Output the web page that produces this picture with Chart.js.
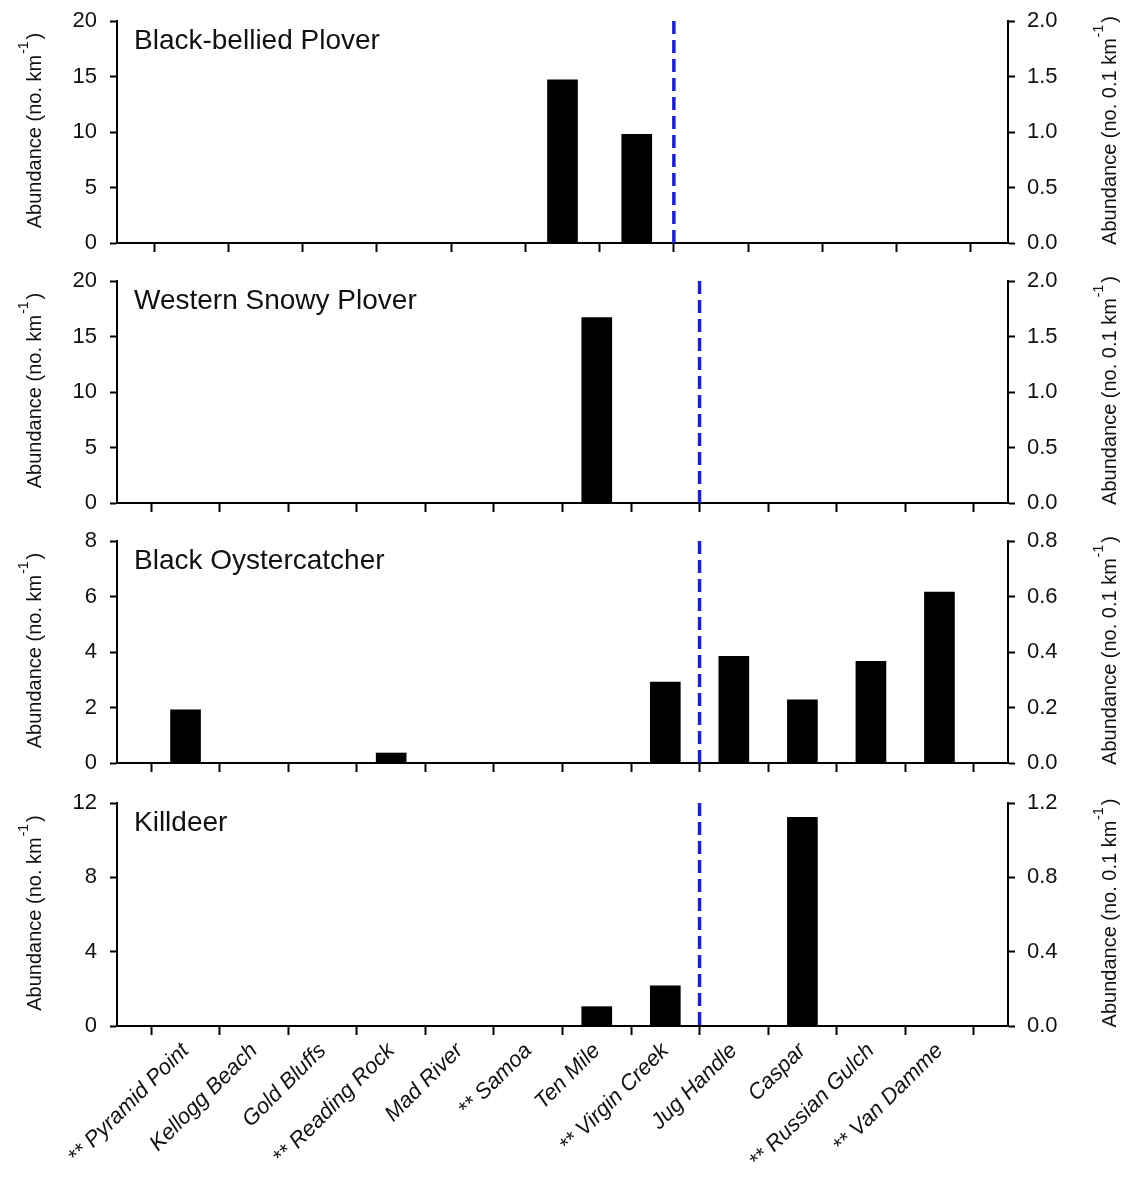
<!DOCTYPE html>
<html>
<head>
<meta charset="utf-8">
<title>Shorebird abundance by site</title>
<script src="https://cdn.jsdelivr.net/npm/chart.js@4.4.1/dist/chart.umd.min.js"></script>
<style>
  html, body { margin: 0; padding: 0; background: #fff; }
  #wrap { position: relative; width: 1127px; height: 1182px; }
  #wrap canvas { position: absolute; left: 0; }
</style>
</head>
<body>
<div id="wrap">
  <canvas id="p1" width="1127" height="260" style="top:0px"></canvas>
  <canvas id="p2" width="1127" height="260" style="top:260px"></canvas>
  <canvas id="p3" width="1127" height="260" style="top:520px"></canvas>
  <canvas id="p4" width="1127" height="402" style="top:780px"></canvas>
</div>
<script>
// =======================
// Data
const sites = ['** Pyramid Point', 'Kellogg Beach', 'Gold Bluffs', '** Reading Rock', 'Mad River', '** Samoa',
  'Ten Mile', '** Virgin Creek', 'Jug Handle', 'Caspar', '** Russian Gulch', '** Van Damme'];

// top panel only has 11 tick positions
const bbPloverVals = [0, 0, 0, 0, 0, 14.7, 9.8, 0, 0, 0, 0];
const snowyPloverVals = [0, 0, 0, 0, 0, 0, 16.7, 0, 0, 0, 0, 0];
const oystercatcherVals = [1.92, 0, 0, 0.36, 0, 0, 0, 2.92, 3.84, 2.28, 3.66, 6.16];
const killdeerVals = [0, 0, 0, 0, 0, 0, 1.04, 2.16, 0, 11.23, 0, 0];

// dashed divider goes after this many positions
const bbPloverBreakAfter = 7;
const breakAfter = sites.indexOf('** Virgin Creek') + 1;

const leftTitle = ['Abundance (no. km', '-1', ')'];
const rightTitle = ['Abundance (no. 0.1 km', '-1', ')'];

// =======================
// Styling
const FONT = '"Liberation Sans", Arial, Helvetica, sans-serif';
const INK = '#000';

// rotated axis titles with superscripts
function drawVertTitle(ctx, x, cy, parts, size) {
  ctx.save();
  ctx.translate(x, cy);
  ctx.rotate(-Math.PI / 2);
  ctx.fillStyle = '#111';
  ctx.textBaseline = 'middle';
  ctx.textAlign = 'left';
  const big = size + 'px ' + FONT, small = Math.round(size * 0.72) + 'px ' + FONT;
  ctx.font = big; const w1 = ctx.measureText(parts[0]).width;
  ctx.font = small; const w2 = ctx.measureText(parts[1]).width;
  ctx.font = big; const w3 = ctx.measureText(parts[2]).width;
  let sx = -(w1 + w2 + w3) / 2;
  ctx.font = big; ctx.fillText(parts[0], sx, 0);
  ctx.font = small; ctx.fillText(parts[1], sx + w1 + 1, -size * 0.55);
  ctx.font = big; ctx.fillText(parts[2], sx + w1 + w2 + 3, 0);
  ctx.restore();
}

const panelText = {
  id: 'panelText',
  afterDraw(chart, args, opts) {
    const ctx = chart.ctx, a = chart.chartArea;
    ctx.save();
    ctx.fillStyle = '#111';
    ctx.font = '28px ' + FONT;
    ctx.textBaseline = 'alphabetic';
    ctx.fillText(opts.name, a.left + 17, a.top + 28);
    ctx.restore();
    const cy = (a.top + a.bottom) / 2;
    drawVertTitle(ctx, 35, cy, leftTitle, 20);
    drawVertTitle(ctx, 1110, cy, rightTitle, 20);
  }
};

// keep the label overflow of the y axes from pushing the plot area around
function fixYAxis(width) {
  return s => { s.width = width; s.paddingTop = 0; s.paddingBottom = 0; };
}

// =======================
// Build one panel
function makePanel(id, name, vals, brk, yMax, yStep, topPad, xAxisH, showLabels) {
  const n = vals.length;
  const ticksFont = { family: FONT, size: 22 };
  new Chart(document.getElementById(id), {
    type: 'bar',
    data: {
      datasets: [
        {
          type: 'bar',
          data: vals.map((v, i) => ({ x: i + 1, y: v })),
          backgroundColor: INK,
          borderWidth: 0,
          barThickness: 30,
          yAxisID: 'y'
        },
        {
          type: 'line',
          data: [{ x: brk + 0.5, y: yMax }, { x: brk + 0.5, y: 0 }],
          borderColor: '#1d22c8',
          borderWidth: 3.5,
          borderDash: [13, 6],
          pointRadius: 0,
          yAxisID: 'y'
        }
      ]
    },
    options: {
      responsive: false,
      animation: false,
      devicePixelRatio: 1,
      layout: { autoPadding: false, padding: { top: topPad, left: 0, right: 0, bottom: 0 } },
      plugins: { legend: { display: false }, tooltip: { enabled: false }, panelText: { name: name } },
      scales: {
        x: {
          type: 'linear',
          min: 0,
          max: n + 1,
          offset: false,
          afterBuildTicks: s => { s.ticks = vals.map((_, i) => ({ value: i + 1 })); },
          afterFit: s => { s.height = xAxisH; },
          ticks: {
            display: showLabels,
            autoSkip: false,
            minRotation: 45,
            maxRotation: 45,
            padding: 3,
            color: '#111',
            font: { family: FONT, size: 22, style: 'italic' },
            callback: v => sites[v - 1]
          },
          grid: { display: true, drawOnChartArea: false, drawTicks: true, tickLength: 9, tickWidth: 2, tickColor: INK },
          border: { display: true, color: INK, width: 2 }
        },
        y: {
          position: 'left',
          min: 0,
          max: yMax,
          afterFit: fixYAxis(117),
          ticks: { stepSize: yStep, padding: 13, color: '#111', font: ticksFont },
          grid: { display: true, drawOnChartArea: false, tickLength: 7, tickWidth: 2, tickColor: INK },
          border: { display: true, color: INK, width: 2 }
        },
        y2: {
          position: 'right',
          min: 0,
          max: yMax / 10,
          afterFit: fixYAxis(119),
          ticks: { stepSize: yStep / 10, padding: 12, color: '#111', font: ticksFont, callback: v => v.toFixed(1) },
          grid: { display: true, drawOnChartArea: false, tickLength: 7, tickWidth: 2, tickColor: INK },
          border: { display: true, color: INK, width: 2 }
        }
      }
    },
    plugins: [panelText]
  });
}

// =======================
// Initialize
window.onload = function () {
  makePanel('p1', 'Black-bellied Plover', bbPloverVals, bbPloverBreakAfter, 20, 5, 21, 17, false);
  makePanel('p2', 'Western Snowy Plover', snowyPloverVals, breakAfter, 20, 5, 21, 17, false);
  makePanel('p3', 'Black Oystercatcher', oystercatcherVals, breakAfter, 8, 2, 21, 17, false);
  makePanel('p4', 'Killdeer', killdeerVals, breakAfter, 12, 4, 23, 156, true);
};
</script>
</body>
</html>
